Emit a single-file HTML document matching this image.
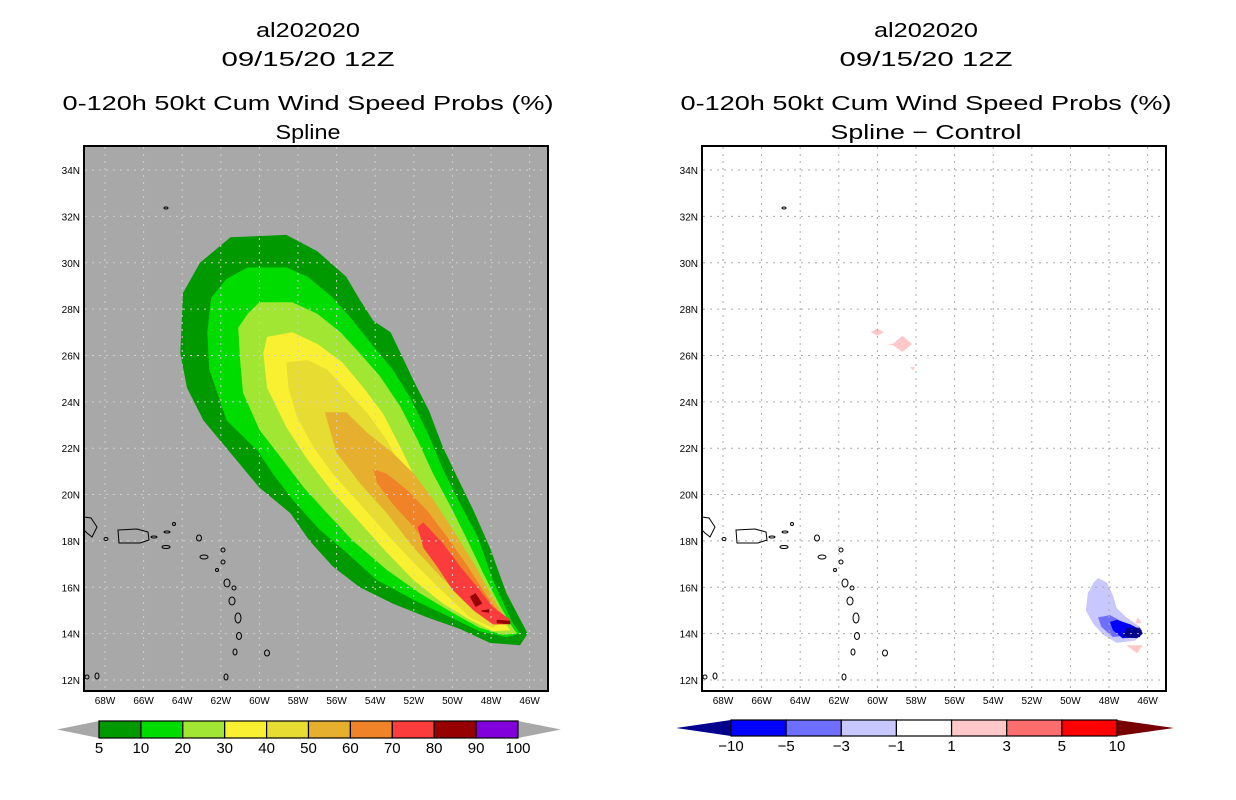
<!DOCTYPE html>
<html><head><meta charset="utf-8"><style>
html,body{margin:0;padding:0;background:#fff;width:1236px;height:800px;overflow:hidden}
svg{display:block}
text{font-family:"Liberation Sans",sans-serif;fill:#000}
</style></head><body>
<svg id="root" width="1236" height="800" viewBox="0 0 1236 800" xmlns="http://www.w3.org/2000/svg">
<defs>
<clipPath id="clipL"><rect x="84" y="146" width="464" height="545"/></clipPath>
<clipPath id="clipR"><rect x="702" y="146" width="464" height="545"/></clipPath>
</defs>
<g font-size="20" text-anchor="middle">
<text x="308" y="37" textLength="104" lengthAdjust="spacingAndGlyphs">al202020</text>
<text x="308" y="66" textLength="173" lengthAdjust="spacingAndGlyphs">09/15/20 12Z</text>
<text x="308" y="110" textLength="491" lengthAdjust="spacingAndGlyphs">0-120h 50kt Cum Wind Speed Probs (%)</text>
<text x="308" y="139" textLength="65" lengthAdjust="spacingAndGlyphs">Spline</text>
</g>
<g font-size="20" text-anchor="middle">
<text x="926" y="37" textLength="104" lengthAdjust="spacingAndGlyphs">al202020</text>
<text x="926" y="66" textLength="173" lengthAdjust="spacingAndGlyphs">09/15/20 12Z</text>
<text x="926" y="110" textLength="491" lengthAdjust="spacingAndGlyphs">0-120h 50kt Cum Wind Speed Probs (%)</text>
<text x="926" y="139" textLength="191" lengthAdjust="spacingAndGlyphs">Spline − Control</text>
</g>
<g id="panelL"></g>
<g id="panelR"></g>
<g id="cbarL"></g>
<g id="cbarR"></g>
</svg>
<script>
const NS="http://www.w3.org/2000/svg";
const lonTicks=[68,66,64,62,60,58,56,54,52,50,48,46];
const latTicks=[12,14,16,18,20,22,24,26,28,30,32,34];
// probability contour polygons [lon, lat]
const c5=[[-61.5,31.1],[-58.6,31.2],[-57.0,30.5],[-55.5,29.4],[-54.8,28.4],[-54.1,27.5],[-53.2,27.0],[-52.0,24.9],[-51.2,23.6],[-50.5,22.05],[-49.6,20.5],[-48.9,19.3],[-48.05,17.7],[-47.2,15.75],[-46.1,14.0],[-46.5,13.5],[-48.05,13.6],[-49.6,14.2],[-51.3,14.7],[-53.1,15.3],[-54.8,16.0],[-56.2,16.9],[-57.4,18.0],[-58.4,19.2],[-60.0,20.3],[-61.2,21.5],[-62.9,23.2],[-63.75,24.6],[-64.1,26.1],[-63.96,28.7],[-63.08,30.0]];
const c10=[[-60.6,29.8],[-58.6,29.8],[-57.5,29.4],[-56.2,28.5],[-55.15,27.5],[-54.1,26.4],[-53.1,25.4],[-52.2,24.2],[-51.3,22.7],[-50.5,21.1],[-49.6,19.6],[-48.7,18.2],[-47.9,16.3],[-46.9,14.5],[-46.5,14.0],[-47.2,13.85],[-48.6,14.1],[-50.1,14.7],[-52.0,15.45],[-53.9,16.3],[-55.5,17.5],[-56.9,18.5],[-58.3,19.8],[-59.3,20.9],[-60.1,21.9],[-61.7,23.2],[-62.6,25.4],[-62.7,27.0],[-62.5,28.5],[-61.7,29.3]];
const c20=[[-60.0,28.3],[-58.3,28.3],[-57.0,27.8],[-55.8,27.0],[-54.8,26.1],[-53.75,25.1],[-52.7,23.8],[-51.8,22.35],[-51.0,20.9],[-50.1,19.5],[-49.2,18.0],[-48.4,16.6],[-47.5,15.15],[-46.9,14.3],[-46.65,14.0],[-47.4,13.95],[-48.6,14.25],[-50.0,14.9],[-51.7,15.75],[-53.4,16.75],[-55.15,18.0],[-56.5,19.2],[-57.7,20.3],[-58.8,21.5],[-60.0,22.8],[-60.85,24.4],[-61.0,25.8],[-61.1,27.2],[-60.6,27.8]];
const c30=[[-59.6,26.8],[-58.3,27.0],[-57.0,26.5],[-55.7,25.7],[-54.6,24.6],[-53.6,23.5],[-52.7,22.05],[-51.8,20.5],[-50.8,18.9],[-49.8,17.5],[-48.7,16.0],[-47.7,14.9],[-47.0,14.15],[-47.9,14.1],[-49.1,14.6],[-50.5,15.3],[-52.0,16.3],[-53.4,17.5],[-54.8,18.8],[-56.2,20.1],[-57.5,21.5],[-58.6,22.9],[-59.6,24.6],[-59.8,26.1]];
const c40=[[-58.6,25.7],[-57.5,25.8],[-56.5,25.4],[-55.5,24.5],[-54.4,23.5],[-53.4,22.35],[-52.6,21.1],[-51.7,19.6],[-50.6,18.2],[-49.6,16.75],[-48.6,15.45],[-47.4,14.5],[-47.9,14.25],[-49.1,14.7],[-50.6,15.9],[-52.0,17.05],[-53.4,18.3],[-54.8,19.6],[-56.2,20.9],[-57.2,22.05],[-58.05,23.35],[-58.5,24.6]];
const c50=[[-56.6,23.55],[-55.5,23.55],[-54.4,22.65],[-53.1,21.8],[-52.0,20.9],[-51.0,19.8],[-50.0,18.5],[-48.9,17.05],[-48.05,15.75],[-47.2,14.6],[-48.05,14.5],[-49.2,15.3],[-50.6,16.45],[-52.0,17.7],[-53.4,19.2],[-54.8,20.5],[-56.0,21.8],[-56.3,22.65]];
const c60=[[-54.1,21.1],[-53.4,20.9],[-52.35,20.2],[-51.3,19.3],[-50.3,18.2],[-49.2,16.9],[-48.2,15.6],[-47.4,14.7],[-48.05,14.6],[-48.9,15.3],[-50.0,16.3],[-51.0,17.5],[-52.0,18.6],[-53.1,19.6],[-53.9,20.5]];
const c70=[[-51.8,18.6],[-51.5,18.8],[-50.5,17.9],[-49.6,16.9],[-48.7,16.0],[-47.9,15.15],[-47.0,14.6],[-47.2,14.4],[-47.9,14.4],[-48.9,15.0],[-50.0,15.9],[-50.8,16.9],[-51.5,17.7]];
const c80a=[[-49.1,15.6],[-48.8,15.75],[-48.45,15.3],[-48.8,15.15]];
const c80b=[[-47.7,14.6],[-47.0,14.55],[-47.0,14.4],[-47.7,14.45]];
const c80c=[[-48.5,15.0],[-48.1,15.05],[-48.1,14.9],[-48.5,14.95]];
// difference contour polygons [lon, lat]
const dLight=[[-48.57,16.4],[-48.1,16.2],[-47.8,15.65],[-47.6,15.1],[-47.1,14.7],[-46.4,14.3],[-46.3,14.0],[-46.65,13.7],[-47.6,13.6],[-48.3,13.95],[-48.8,14.4],[-49.2,15.0],[-49.1,15.75],[-48.8,16.2]];
const dMed=[[-48.57,14.7],[-47.95,14.8],[-47.3,14.5],[-46.9,13.95],[-47.8,13.85],[-48.4,14.3]];
const dBlue=[[-47.95,14.5],[-47.6,14.6],[-46.9,14.4],[-46.3,14.15],[-46.4,13.85],[-47.3,13.8],[-47.8,14.15]];
const dNavy=[[-47.1,14.25],[-46.4,14.25],[-46.25,14.0],[-46.55,13.8],[-47.3,13.85]];
const dPinkA=[[-46.5,14.7],[-46.65,14.45],[-46.3,14.45]];
const dPinkB=[[-47.1,13.5],[-46.25,13.5],[-46.55,13.15]];
const dPinkC=[[-60.35,27.0],[-60.0,27.15],[-59.65,27.0],[-60.0,26.85]];
const dPinkD=[[-59.2,26.5],[-58.7,26.85],[-58.2,26.5],[-58.7,26.15],[-59.2,26.45],[-59.6,26.5]];
const dPinkE=[[-58.3,25.5],[-58.05,25.5],[-58.15,25.35]];
const cbLeftLabels=["5","10","20","30","40","50","60","70","80","90","100"];
const cbLeftColors=["#009a00","#00dc00","#a0e632","#faf032","#e6dc32","#e6af2d","#f08228","#fa3c3c","#960000","#8200dc"];
const cbRightLabels=["−10","−5","−3","−1","1","3","5","10"];
const cbRightColors=["#0000ff","#6e6eff","#c8c8ff","#ffffff","#ffc8c8","#ff6e6e","#ff0000"];

function el(tag,attrs,parent){const e=document.createElementNS(NS,tag);for(const k in attrs)e.setAttribute(k,attrs[k]);parent.appendChild(e);return e;}
function xScale(lon,off){return off+105+(68+lon)*19.3;}
function yScale(lat){return 680-(lat-12)*23.18;}
function poly(parent,pts,off,fill,name){
  const p=el('polygon',{points:pts.map(q=>xScale(q[0],off).toFixed(1)+','+yScale(q[1]).toFixed(1)).join(' '),fill:fill},parent);
  
  
  return p;
}
const islands=[[106,539,2,1.5],[166,547,4,1.5],[174,524,1.5,1.5],[167,532,3,1],[154,537,3,1],[199,538,2.5,3],[204,557,4,2],[223,550,2,2],[223,562,2,2],[217,570,1.5,1.5],[227,583,3,4],[234,588,2,2],[232,601,3,4],[238,618,3,5],[239,636,2.5,3.5],[235,652,2,3],[267,653,2.5,3],[226,677,2,3],[97,676,2,3],[87,677,2,2],[166,208,2,1]];
function panel(gid,off,bg,clip){
  const g=document.getElementById(gid);
  const bgR=el('rect',{x:84+off,y:146,width:464,height:545,fill:bg},g);
  
  
  const cg=el('g',{'clip-path':'url(#'+clip+')'},g);
  
  
  return {g,cg};
}
function finishPanel(g,off,gridColor){
  const gg=el('g',{stroke:gridColor,'stroke-width':1,'stroke-dasharray':'2,5'},g);
  
  
  lonTicks.forEach(l=>{const x=xScale(-l,off);el('line',{x1:x,x2:x,y1:147,y2:690},gg);});
  latTicks.forEach(l=>{const y=yScale(l);el('line',{x1:85+off,x2:547+off,y1:y,y2:y},gg);});
  const cl=el('g',{fill:'none',stroke:'#000','stroke-width':1},g);
  
  
  el('polyline',{points:[[84,517],[91,518],[97,527],[92,537],[87,533],[84,530]].map(p=>(p[0]+off)+','+p[1]).join(' ')},cl);
  el('path',{d:`M${118+off},530 L${137+off},529 L${148+off},532 L${149+off},540 L${140+off},543 L${119+off},543 Z`},cl);
  islands.forEach(i=>el('ellipse',{cx:i[0]+off,cy:i[1],rx:i[2],ry:i[3]},cl));
  const fr=el('rect',{x:84+off,y:146,width:464,height:545,fill:'none',stroke:'#000','stroke-width':2},g);
  
  
  const xt=el('g',{'font-size':10,'text-anchor':'middle'},g);
  
  
  lonTicks.forEach(l=>{const t=el('text',{x:xScale(-l,off),y:704},xt);t.textContent=l+'W';});
  const yt=el('g',{'font-size':10,'text-anchor':'end'},g);
  
  
  latTicks.forEach(l=>{const t=el('text',{x:80+off,y:yScale(l)+4},yt);t.textContent=l+'N';});
}
(function(){
  const {g,cg}=panel('panelL',0,'#a8a8a8','clipL');
  poly(cg,c5,0,cbLeftColors[0],'contour-5');
  poly(cg,c10,0,cbLeftColors[1],'contour-10');
  poly(cg,c20,0,cbLeftColors[2],'contour-20');
  poly(cg,c30,0,cbLeftColors[3],'contour-30');
  poly(cg,c40,0,cbLeftColors[4],'contour-40');
  poly(cg,c50,0,cbLeftColors[5],'contour-50');
  poly(cg,c60,0,cbLeftColors[6],'contour-60');
  poly(cg,c70,0,cbLeftColors[7],'contour-70');
  poly(cg,c80a,0,cbLeftColors[8],'contour-80');
  poly(cg,c80b,0,cbLeftColors[8],'contour-80');
  poly(cg,c80c,0,cbLeftColors[8],'contour-80');
  finishPanel(g,0,'#cfcfcf');
})();
(function(){
  const off=618;
  const {g,cg}=panel('panelR',off,'#ffffff','clipR');
  poly(cg,dLight,off,'#c8c8ff','diff-minus1');
  poly(cg,dMed,off,'#6e6eff','diff-minus3');
  poly(cg,dBlue,off,'#0000ff','diff-minus5');
  poly(cg,dNavy,off,'#00008c','diff-minus10');
  poly(cg,dPinkA,off,'#ffc8c8','diff-plus1');
  poly(cg,dPinkB,off,'#ffc8c8','diff-plus1');
  poly(cg,dPinkC,off,'#ffc8c8','diff-plus1');
  poly(cg,dPinkD,off,'#ffc8c8','diff-plus1');
  poly(cg,dPinkE,off,'#ffc8c8','diff-plus1');
  finishPanel(g,off,'#aaaaaa');
})();
function cbar(gid,x0,x1,tipL,tipR,y0,y1,colors,labels,leftC,rightC){
  const g=document.getElementById(gid);
  const ym=(y0+y1)/2;
  const tl=el('polygon',{points:`${tipL},${ym} ${x0},${y0} ${x0},${y1}`,fill:leftC},g);
  
  
  const tr=el('polygon',{points:`${tipR},${ym} ${x1},${y0} ${x1},${y1}`,fill:rightC},g);
  
  
  const w=(x1-x0)/colors.length;
  colors.forEach((c,i)=>{
    const r=el('rect',{x:x0+i*w,y:y0,width:w,height:y1-y0,fill:c,stroke:'#000','stroke-width':1.2},g);
    
    
  });
  const off=labels.length>colors.length?0:1;
  labels.forEach((l,i)=>{
    const t=el('text',{x:x0+(i+off)*w,y:y1+15,'font-size':15,'text-anchor':'middle'},g);
    
    
    t.textContent=l;
  });
}
cbar('cbarL',99,518,57,561,721,738,cbLeftColors,cbLeftLabels,'#a8a8a8','#a8a8a8');
cbar('cbarR',731,1117,676,1174,720,736,cbRightColors,cbRightLabels,'#00008c','#780000');
</script>
</body></html>
